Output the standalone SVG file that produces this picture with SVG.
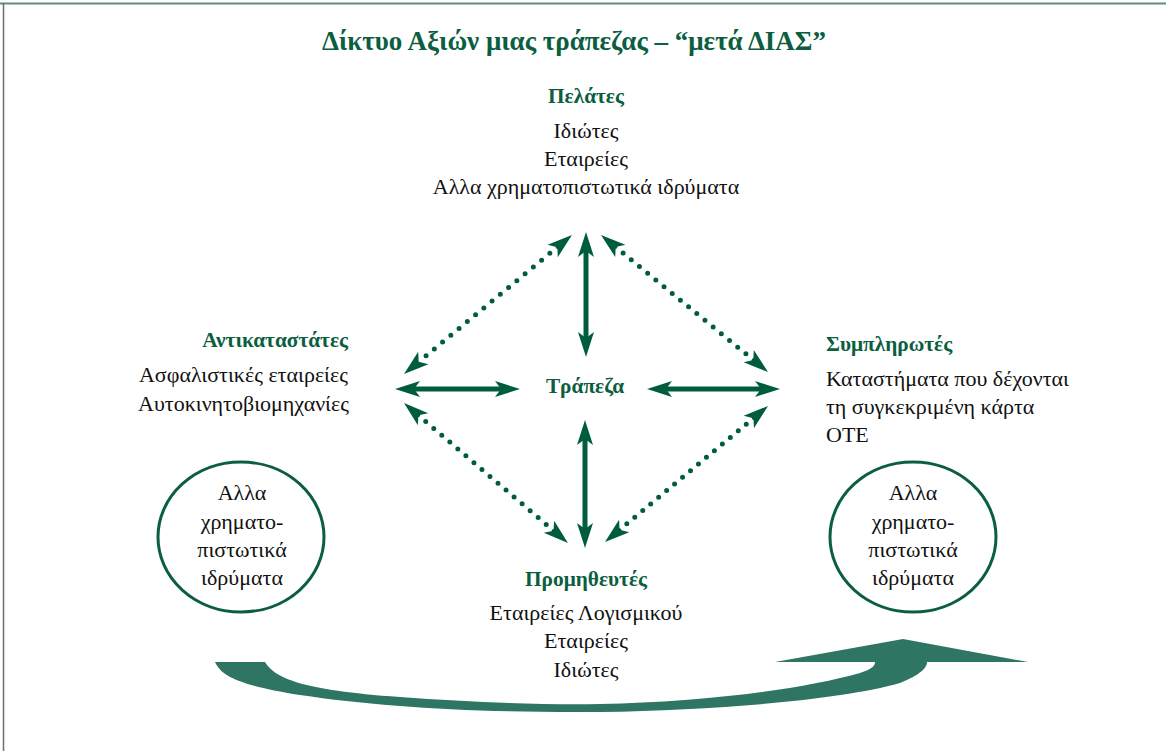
<svg xmlns="http://www.w3.org/2000/svg" width="1166" height="751" viewBox="0 0 1166 751">
<style>
text{font-family:"Liberation Serif","Times New Roman",serif}
.t{font-size:27px;font-weight:bold;fill:#0b5e40;text-anchor:middle}
.h{font-size:21.3px;font-weight:bold;fill:#0b5e40}
.b{font-size:22px;fill:#111}
.m{text-anchor:middle}
.e{text-anchor:end}
.sol{stroke:#005c3f;stroke-width:5;fill:none}
.dot{stroke:#005c3f;stroke-width:5;stroke-linecap:round;fill:none}
.ell{fill:#fff;stroke:#0b5e40;stroke-width:3}
</style>
<defs>
<marker id="ah" viewBox="-26 -10 27 20" refX="-18" refY="0" markerWidth="27" markerHeight="20" markerUnits="userSpaceOnUse" orient="auto-start-reverse">
<path d="M0,0 L-25,-8 L-19,0 L-25,8 Z" fill="#005c3f"/>
</marker>
</defs>
<rect x="0" y="0" width="1166" height="751" fill="#fff"/>
<line x1="0" y1="3.5" x2="1166" y2="3.5" stroke="#5e8e7c" stroke-width="2"/>
<line x1="3.5" y1="3" x2="3.5" y2="751" stroke="#6d6d6d" stroke-width="1.5"/>
<text class="t" x="574" y="50">Δίκτυο Αξιών μιας τράπεζας – “μετά ΔΙΑΣ”</text>
<g id="connectors">
<line class="sol" x1="586" y1="250" x2="586" y2="339" marker-start="url(#ah)" marker-end="url(#ah)"/>
<line class="sol" x1="585" y1="438" x2="585" y2="530" marker-start="url(#ah)" marker-end="url(#ah)"/>
<line class="sol" x1="413" y1="389" x2="502" y2="389" marker-start="url(#ah)" marker-end="url(#ah)"/>
<line class="sol" x1="665" y1="389" x2="762" y2="389" marker-start="url(#ah)" marker-end="url(#ah)"/>
<line class="dot" x1="558.1" y1="246.5" x2="417.9" y2="362.5" stroke-dasharray="0 10.71" marker-start="url(#ah)" marker-end="url(#ah)"/>
<line class="dot" x1="614.9" y1="246.4" x2="754.1" y2="360.6" stroke-dasharray="0 10.59" marker-start="url(#ah)" marker-end="url(#ah)"/>
<line class="dot" x1="417.7" y1="414.7" x2="554.3" y2="531.3" stroke-dasharray="0 10.56" marker-start="url(#ah)" marker-end="url(#ah)"/>
<line class="dot" x1="754.2" y1="417.5" x2="618.8" y2="530.5" stroke-dasharray="0 10.37" marker-start="url(#ah)" marker-end="url(#ah)"/>
<path id="bigArrow" d="M215,662 L265,662 C275,678 300,690 400,697 C470,702 540,705 600,704 C700,702 800,690 860,673 C872,669 875,666 875,662 L775,662 L903,639 L1028,662 L927,662 C927,668 920,675 900,683 C840,700 720,710 600,712 C480,713 380,707 300,695 C240,685 222,677 215,662 Z" fill="#2e7563"/>
</g>
<g id="pelates">
<text class="h m" x="586" y="103">Πελάτες</text>
<text class="b m" x="586" y="138">Ιδιώτες</text>
<text class="b m" x="586" y="166">Εταιρείες</text>
<text class="b m" x="586" y="194">Αλλα χρηματοπιστωτικά ιδρύματα</text>
</g>
<g id="antikatastates">
<text class="h e" x="348" y="347">Αντικαταστάτες</text>
<text class="b e" x="348" y="382">Ασφαλιστικές εταιρείες</text>
<text class="b e" x="349" y="411">Αυτοκινητοβιομηχανίες</text>
</g>
<g id="trapeza">
<text class="h m" x="585" y="393">Τράπεζα</text>
</g>
<g id="symplirotes">
<text class="h" x="826" y="351">Συμπληρωτές</text>
<text class="b" x="826" y="386">Καταστήματα που δέχονται</text>
<text class="b" x="826" y="414">τη συγκεκριμένη κάρτα</text>
<text class="b" x="826" y="442">ΟΤΕ</text>
</g>
<g id="promitheutes">
<text class="h m" x="586" y="586">Προμηθευτές</text>
<text class="b m" x="586" y="620">Εταιρείες Λογισμικού</text>
<text class="b m" x="586" y="648">Εταιρείες</text>
<text class="b m" x="586" y="677">Ιδιώτες</text>
</g>
<g id="ellipseLeft">
<ellipse class="ell" cx="241" cy="537" rx="83" ry="75"/>
<text class="b m" x="242" y="500">Αλλα</text>
<text class="b m" x="242" y="529">χρηματο-</text>
<text class="b m" x="242" y="557">πιστωτικά</text>
<text class="b m" x="242" y="585">ιδρύματα</text>
</g>
<g id="ellipseRight">
<ellipse class="ell" cx="913" cy="537" rx="83" ry="75"/>
<text class="b m" x="913" y="500">Αλλα</text>
<text class="b m" x="913" y="529">χρηματο-</text>
<text class="b m" x="913" y="557">πιστωτικά</text>
<text class="b m" x="913" y="585">ιδρύματα</text>
</g>
</svg>
